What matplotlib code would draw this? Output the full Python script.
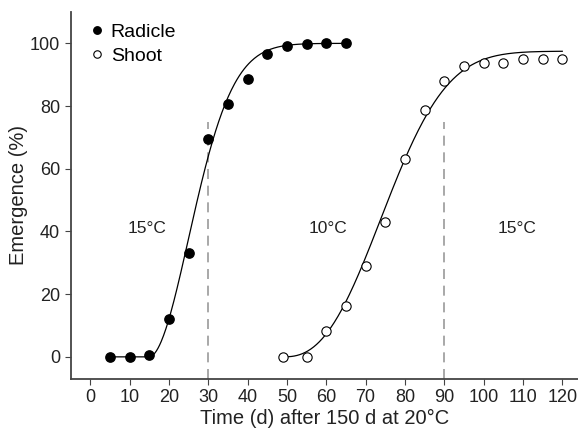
import matplotlib
matplotlib.use('Agg')
import matplotlib.pyplot as plt
import numpy as np

plt.rcParams['font.family'] = ['Liberation Sans', 'DejaVu Sans']

# Radicle emergence (filled circles)
rad_days = [5, 10, 15, 20, 25, 30, 35, 40, 45, 50, 55, 60, 65]
rad_pct = [0, 0, 0.6, 12, 33.2, 69.6, 80.7, 88.6, 96.5, 99.1, 99.9, 100, 100]

# Shoot emergence (open circles)
sho_days = [49, 55, 60, 65, 70, 75, 80, 85, 90, 95, 100, 105, 110, 115, 120]
sho_pct = [0, 0, 8.4, 16.1, 28.9, 43.0, 63.0, 78.6, 88.0, 92.9, 93.7, 93.7, 95.1, 95.0, 94.9]

# fitted Weibull curves: (onset, scale, shape, max)
rad_fit = (15, 14.85, 1.89, 100)
sho_fit = (49, 30.5, 2.5, 97.5)

# temperature changes and labels
switch_days = [30, 90]
temp_labels = ['15°C', '10°C', '15°C']
temp_x = [14.5, 60.5, 108.5]


def weibull(x, p):
    x0, b, c, a = p
    t = np.clip((x - x0) / b, 0, None)
    return a * (1 - np.exp(-t ** c))


fig = plt.figure(figsize=(5.78, 4.29), dpi=100)
ax = fig.add_axes([0.122, 0.117, 0.878, 0.855])

xr = np.linspace(5, 65, 300)
ax.plot(xr, weibull(xr, rad_fit), color='black', lw=0.9, zorder=2)
xs = np.linspace(49, 120, 300)
ax.plot(xs, weibull(xs, sho_fit), color='black', lw=0.9, zorder=2)

ax.plot(rad_days, rad_pct, 'o', color='black', ms=6.7, zorder=3, label='Radicle')
ax.plot(sho_days, sho_pct, 'o', mfc='white', mec='black', mew=0.8, ms=6.7,
        zorder=3, label='Shoot')

for d in switch_days:
    ax.plot([d, d], [-7, 75], color='#999999', lw=1.2, dashes=(6, 4), zorder=1)

for lab, tx in zip(temp_labels, temp_x):
    ax.text(tx, 41, lab, fontsize=12.5, ha='center', va='center', color='#222222')

ax.set_xlim(-5, 124)
ax.set_ylim(-7, 110)
ax.set_xticks(np.arange(0, 121, 10))
ax.set_yticks(np.arange(0, 101, 20))
ax.spines['top'].set_visible(False)
ax.spines['right'].set_visible(False)
for s in ['left', 'bottom']:
    ax.spines[s].set_color('#444444')
    ax.spines[s].set_linewidth(1.3)
ax.tick_params(length=4, width=0.8, color='#444444', labelsize=13,
               labelcolor='#222222')
ax.set_xlabel('Time (d) after 150 d at 20°C', fontsize=14.5, color='#222222', labelpad=2)
ax.set_ylabel('Emergence (%)', fontsize=14.5, color='#222222', labelpad=1)

ax.legend(loc='upper left', frameon=False, fontsize=14, handletextpad=0.1,
          borderaxespad=0.0, labelspacing=0.3, bbox_to_anchor=(0.014, 0.99),
          handlelength=1.2, markerscale=0.8)

fig.savefig('out.png', dpi=100)
